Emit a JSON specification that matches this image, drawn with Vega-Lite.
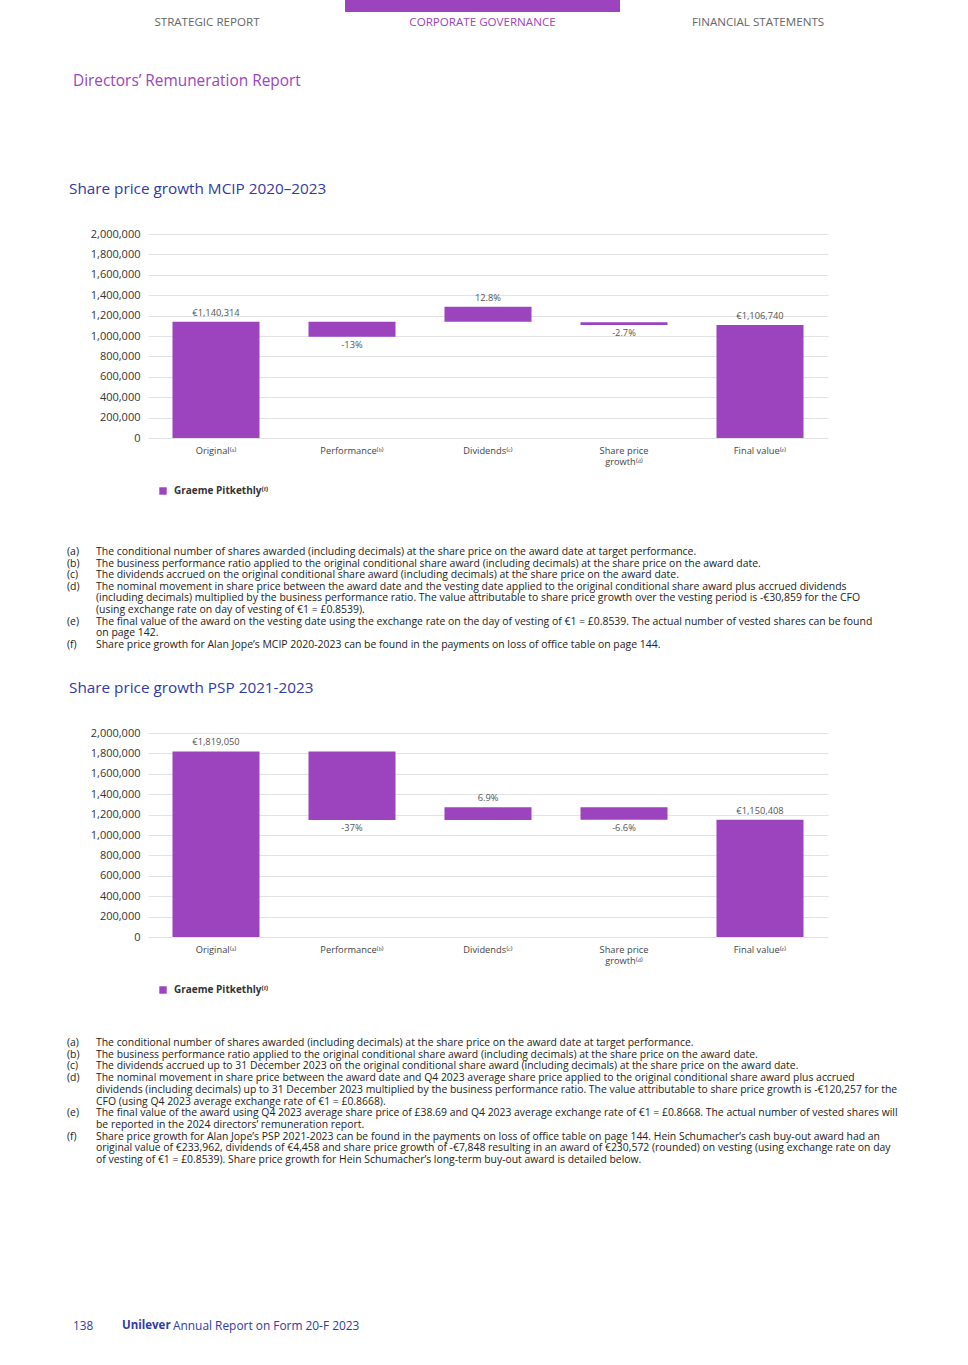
{
  "$schema": "https://vega.github.io/schema/vega-lite/v6.json",
  "background": "white",
  "padding": {"left": 67, "top": 0, "right": 5, "bottom": 0},
  "autosize": {"type": "pad"},
  "bounds": "flush",
  "spacing": 0,
  "config": {
    "view": {"stroke": null},
    "font": "Open Sans",
    "text": {"font": "Open Sans"},
    "axisY": {"values": [0, 200000, 400000, 600000, 800000, 1000000, 1200000, 1400000, 1600000, 1800000, 2000000], "tickCount": 11, "format": ",.0f", "domain": false, "ticks": false, "labelOverlap": false, "labelPadding": 8, "labelFontSize": 11, "labelColor": "#333333", "labelFont": "Open Sans", "grid": true, "gridColor": "#e3e3e3"}
  },
  "resolve": {"scale": {"color": "independent"}, "legend": {"color": "independent"}},
  "datasets": {
    "nav": [
      {"section": "STRATEGIC REPORT", "active": false},
      {"section": "CORPORATE GOVERNANCE", "active": true},
      {"section": "FINANCIAL STATEMENTS", "active": false}
    ],
    "mcip": [
      {"category": "Original⁽ᵃ⁾", "lo": 0, "hi": 1140314, "label": "€1,140,314", "side": "above", "director": "Graeme Pitkethly⁽ᶠ⁾"},
      {"category": "Performance⁽ᵇ⁾", "lo": 992073, "hi": 1140314, "label": "-13%", "side": "below", "director": "Graeme Pitkethly⁽ᶠ⁾"},
      {"category": "Dividends⁽ᶜ⁾", "lo": 1140314, "hi": 1286000, "label": "12.8%", "side": "above", "director": "Graeme Pitkethly⁽ᶠ⁾"},
      {"category": "Share price growth⁽ᵈ⁾", "lo": 1108000, "hi": 1135000, "label": "-2.7%", "side": "below", "director": "Graeme Pitkethly⁽ᶠ⁾"},
      {"category": "Final value⁽ᵉ⁾", "lo": 0, "hi": 1106740, "label": "€1,106,740", "side": "above", "director": "Graeme Pitkethly⁽ᶠ⁾"}
    ],
    "psp": [
      {"category": "Original⁽ᵃ⁾", "lo": 0, "hi": 1819050, "label": "€1,819,050", "side": "above", "director": "Graeme Pitkethly⁽ᶠ⁾"},
      {"category": "Performance⁽ᵇ⁾", "lo": 1146000, "hi": 1819050, "label": "-37%", "side": "below", "director": "Graeme Pitkethly⁽ᶠ⁾"},
      {"category": "Dividends⁽ᶜ⁾", "lo": 1146000, "hi": 1272000, "label": "6.9%", "side": "above", "director": "Graeme Pitkethly⁽ᶠ⁾"},
      {"category": "Share price growth⁽ᵈ⁾", "lo": 1150408, "hi": 1272000, "label": "-6.6%", "side": "below", "director": "Graeme Pitkethly⁽ᶠ⁾"},
      {"category": "Final value⁽ᵉ⁾", "lo": 0, "hi": 1150408, "label": "€1,150,408", "side": "above", "director": "Graeme Pitkethly⁽ᶠ⁾"}
    ],
    "foot1": [
      {"line": 0, "tag": "(a)", "body": "The conditional number of shares awarded (including decimals) at the share price on the award date at target performance."},
      {"line": 1, "tag": "(b)", "body": "The business performance ratio applied to the original conditional share award (including decimals) at the share price on the award date."},
      {"line": 2, "tag": "(c)", "body": "The dividends accrued on the original conditional share award (including decimals) at the share price on the award date."},
      {"line": 3, "tag": "(d)", "body": "The nominal movement in share price between the award date and the vesting date applied to the original conditional share award plus accrued dividends"},
      {"line": 4, "tag": "", "body": "(including decimals) multiplied by the business performance ratio. The value attributable to share price growth over the vesting period is -€30,859 for the CFO"},
      {"line": 5, "tag": "", "body": "(using exchange rate on day of vesting of €1 = £0.8539)."},
      {"line": 6, "tag": "(e)", "body": "The final value of the award on the vesting date using the exchange rate on the day of vesting of €1 = £0.8539. The actual number of vested shares can be found"},
      {"line": 7, "tag": "", "body": "on page 142."},
      {"line": 8, "tag": "(f)", "body": "Share price growth for Alan Jope’s MCIP 2020-2023 can be found in the payments on loss of office table on page 144."}
    ],
    "foot2": [
      {"line": 0, "tag": "(a)", "body": "The conditional number of shares awarded (including decimals) at the share price on the award date at target performance."},
      {"line": 1, "tag": "(b)", "body": "The business performance ratio applied to the original conditional share award (including decimals) at the share price on the award date."},
      {"line": 2, "tag": "(c)", "body": "The dividends accrued up to 31 December 2023 on the original conditional share award (including decimals) at the share price on the award date."},
      {"line": 3, "tag": "(d)", "body": "The nominal movement in share price between the award date and Q4 2023 average share price applied to the original conditional share award plus accrued"},
      {"line": 4, "tag": "", "body": "dividends (including decimals) up to 31 December 2023 multiplied by the business performance ratio. The value attributable to share price growth is -€120,257 for the"},
      {"line": 5, "tag": "", "body": "CFO (using Q4 2023 average exchange rate of €1 = £0.8668)."},
      {"line": 6, "tag": "(e)", "body": "The final value of the award using Q4 2023 average share price of £38.69 and Q4 2023 average exchange rate of €1 = £0.8668. The actual number of vested shares will"},
      {"line": 7, "tag": "", "body": "be reported in the 2024 directors’ remuneration report."},
      {"line": 8, "tag": "(f)", "body": "Share price growth for Alan Jope’s PSP 2021-2023 can be found in the payments on loss of office table on page 144. Hein Schumacher’s cash buy-out award had an"},
      {"line": 9, "tag": "", "body": "original value of €233,962, dividends of €4,458 and share price growth of -€7,848 resulting in an award of €230,572 (rounded) on vesting (using exchange rate on day"},
      {"line": 10, "tag": "", "body": "of vesting of €1 = £0.8539). Share price growth for Hein Schumacher’s long-term buy-out award is detailed below."}
    ]
  },
  "vconcat": [
    {
      "width": 669,
      "height": 234,
      "layer": [
        {
          "data": {"name": "nav"},
          "transform": [{"filter": "datum.active"}],
          "mark": {"type": "bar", "width": 275, "color": "#9b44be"},
          "encoding": {
            "x": {"field": "section", "type": "nominal", "sort": ["STRATEGIC REPORT", "CORPORATE GOVERNANCE", "FINANCIAL STATEMENTS"], "scale": {"type": "point", "padding": 0.214}, "axis": null},
            "y": {"value": 0},
            "y2": {"value": 12}
          }
        },
        {
          "data": {"name": "nav"},
          "mark": {"type": "text", "fontSize": 11.6, "baseline": "middle"},
          "encoding": {
            "x": {"field": "section", "type": "nominal", "sort": ["STRATEGIC REPORT", "CORPORATE GOVERNANCE", "FINANCIAL STATEMENTS"], "scale": {"type": "point", "padding": 0.214}, "axis": null},
            "y": {"value": 23},
            "text": {"field": "section"},
            "color": {"condition": {"test": "datum.active", "value": "#9b44be"}, "value": "#666666"}
          }
        },
        {
          "data": {"values": [{"heading": "Directors’ Remuneration Report"}]},
          "mark": {"type": "text", "align": "left", "baseline": "middle", "fontSize": 15.4, "color": "#9b44be"},
          "encoding": {"x": {"value": -75}, "y": {"value": 81}, "text": {"field": "heading"}}
        }
      ]
    },
    {
      "width": 680,
      "height": 204,
      "title": {"text": "Share price growth MCIP 2020–2023", "anchor": "start", "frame": "group", "dx": -79, "offset": 31, "fontSize": 15.3, "fontWeight": "normal", "color": "#2f3aa3", "font": "Open Sans"},
      "data": {"name": "mcip"},
      "encoding": {
        "x": {
          "field": "category", "type": "nominal", "title": null,
          "sort": ["Original⁽ᵃ⁾", "Performance⁽ᵇ⁾", "Dividends⁽ᶜ⁾", "Share price growth⁽ᵈ⁾", "Final value⁽ᵉ⁾"],
          "scale": {"paddingInner": 0.36, "paddingOuter": 0.18},
          "axis": {"domain": false, "ticks": false, "grid": false, "labelAngle": 0, "labelPadding": 8, "labelFontSize": 9.3, "labelColor": "#444444", "labelFont": "Open Sans", "labelLineHeight": 11, "labelExpr": "datum.label == 'Share price growth⁽ᵈ⁾' ? ['Share price', 'growth⁽ᵈ⁾'] : datum.label"}
        }
      },
      "layer": [
        {
          "mark": {"type": "bar"},
          "encoding": {
            "y": {"field": "lo", "type": "quantitative", "title": null, "scale": {"domain": [0, 2000000], "nice": false}},
            "y2": {"field": "hi"},
            "color": {"field": "director", "type": "nominal", "scale": {"range": ["#9b44be"]},
              "legend": {"orient": "none", "legendX": 10, "legendY": 252, "title": null, "symbolType": "square", "symbolSize": 55, "symbolStrokeWidth": 0, "labelFontSize": 10, "labelFontWeight": "bold", "labelColor": "#333333", "labelFont": "Open Sans", "padding": 0, "labelOffset": 6}}
          }
        },
        {
          "transform": [{"filter": "datum.side == 'above'"}],
          "mark": {"type": "text", "baseline": "bottom", "dy": -4, "fontSize": 9.3, "color": "#555555"},
          "encoding": {"y": {"field": "hi", "type": "quantitative", "title": null}, "text": {"field": "label"}}
        },
        {
          "transform": [{"filter": "datum.side == 'below'"}],
          "mark": {"type": "text", "baseline": "top", "dy": 4, "fontSize": 9.3, "color": "#555555"},
          "encoding": {"y": {"field": "lo", "type": "quantitative", "title": null}, "text": {"field": "label"}}
        }
      ]
    },
    {
      "width": 680,
      "height": 295,
      "data": {"name": "foot1"},
      "layer": [
        {
          "mark": {"type": "text", "align": "left", "baseline": "middle", "fontSize": 10.45, "color": "#222222"},
          "encoding": {
            "y": {"field": "line", "type": "quantitative", "scale": {"domain": [-9.806, 15.57], "reverse": true, "nice": false, "zero": false}, "axis": null},
            "x": {"value": -81},
            "text": {"field": "tag"}
          }
        },
        {
          "mark": {"type": "text", "align": "left", "baseline": "middle", "fontSize": 10.45, "color": "#222222"},
          "encoding": {
            "y": {"field": "line", "type": "quantitative", "scale": {"domain": [-9.806, 15.57], "reverse": true, "nice": false, "zero": false}, "axis": null},
            "x": {"value": -52},
            "text": {"field": "body"}
          }
        }
      ]
    },
    {
      "width": 680,
      "height": 204,
      "title": {"text": "Share price growth PSP 2021-2023", "anchor": "start", "frame": "group", "dx": -79, "offset": 31, "fontSize": 15.3, "fontWeight": "normal", "color": "#2f3aa3", "font": "Open Sans"},
      "data": {"name": "psp"},
      "encoding": {
        "x": {
          "field": "category", "type": "nominal", "title": null,
          "sort": ["Original⁽ᵃ⁾", "Performance⁽ᵇ⁾", "Dividends⁽ᶜ⁾", "Share price growth⁽ᵈ⁾", "Final value⁽ᵉ⁾"],
          "scale": {"paddingInner": 0.36, "paddingOuter": 0.18},
          "axis": {"domain": false, "ticks": false, "grid": false, "labelAngle": 0, "labelPadding": 8, "labelFontSize": 9.3, "labelColor": "#444444", "labelFont": "Open Sans", "labelLineHeight": 11, "labelExpr": "datum.label == 'Share price growth⁽ᵈ⁾' ? ['Share price', 'growth⁽ᵈ⁾'] : datum.label"}
        }
      },
      "layer": [
        {
          "mark": {"type": "bar"},
          "encoding": {
            "y": {"field": "lo", "type": "quantitative", "title": null, "scale": {"domain": [0, 2000000], "nice": false}},
            "y2": {"field": "hi"},
            "color": {"field": "director", "type": "nominal", "scale": {"range": ["#9b44be"]},
              "legend": {"orient": "none", "legendX": 10, "legendY": 252, "title": null, "symbolType": "square", "symbolSize": 55, "symbolStrokeWidth": 0, "labelFontSize": 10, "labelFontWeight": "bold", "labelColor": "#333333", "labelFont": "Open Sans", "padding": 0, "labelOffset": 6}}
          }
        },
        {
          "transform": [{"filter": "datum.side == 'above'"}],
          "mark": {"type": "text", "baseline": "bottom", "dy": -4, "fontSize": 9.3, "color": "#555555"},
          "encoding": {"y": {"field": "hi", "type": "quantitative", "title": null}, "text": {"field": "label"}}
        },
        {
          "transform": [{"filter": "datum.side == 'below'"}],
          "mark": {"type": "text", "baseline": "top", "dy": 4, "fontSize": 9.3, "color": "#555555"},
          "encoding": {"y": {"field": "lo", "type": "quantitative", "title": null}, "text": {"field": "label"}}
        }
      ]
    },
    {
      "width": 680,
      "height": 428,
      "layer": [
        {
          "data": {"name": "foot2"},
          "mark": {"type": "text", "align": "left", "baseline": "middle", "fontSize": 10.4, "color": "#222222"},
          "encoding": {
            "y": {"field": "line", "type": "quantitative", "scale": {"domain": [-9.06, 27.521], "reverse": true, "nice": false, "zero": false}, "axis": null},
            "x": {"value": -81},
            "text": {"field": "tag"}
          }
        },
        {
          "data": {"name": "foot2"},
          "mark": {"type": "text", "align": "left", "baseline": "middle", "fontSize": 10.4, "color": "#222222"},
          "encoding": {
            "y": {"field": "line", "type": "quantitative", "scale": {"domain": [-9.06, 27.521], "reverse": true, "nice": false, "zero": false}, "axis": null},
            "x": {"value": -52},
            "text": {"field": "body"}
          }
        },
        {
          "data": {"values": [{"page": "138"}]},
          "mark": {"type": "text", "align": "left", "baseline": "middle", "fontSize": 11.8, "color": "#2f3aa3"},
          "encoding": {"x": {"value": -75}, "y": {"value": 389}, "text": {"field": "page"}}
        },
        {
          "data": {"values": [{"brand": "Unilever"}]},
          "mark": {"type": "text", "align": "left", "baseline": "middle", "fontSize": 11.5, "fontWeight": "bold", "color": "#2f3aa3"},
          "encoding": {"x": {"value": -26}, "y": {"value": 389}, "text": {"field": "brand"}}
        },
        {
          "data": {"values": [{"doc": "Annual Report on Form 20-F 2023"}]},
          "mark": {"type": "text", "align": "left", "baseline": "middle", "fontSize": 11.9, "color": "#2f3aa3"},
          "encoding": {"x": {"value": 25}, "y": {"value": 389}, "text": {"field": "doc"}}
        }
      ]
    }
  ]
}
